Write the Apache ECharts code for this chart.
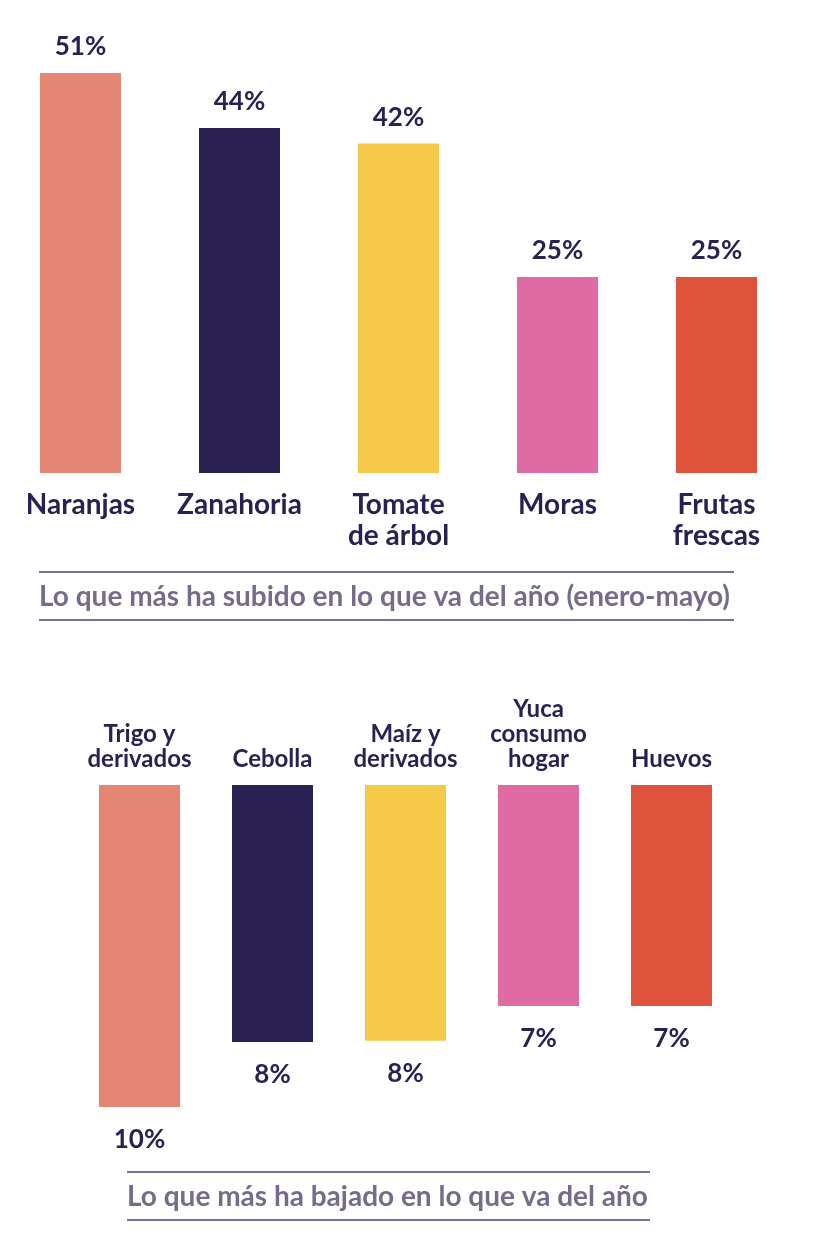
<!DOCTYPE html>
<html>
<head>
<meta charset="utf-8">
<script src="https://cdn.jsdelivr.net/npm/echarts@6/dist/echarts.min.js"></script>
<style>
    html, body { margin: 0; padding: 0; background: #fff; }
    #chart { width: 820px; height: 1256px; }
</style>
</head>
<body>
<div id="chart"></div>
<script>
const upCategories = ['Naranjas', 'Zanahoria', 'Tomate\nde árbol', 'Moras', 'Frutas\nfrescas'];
const upValues = [51, 44, 42, 25, 25];
const upTitle = 'Lo que más ha subido en lo que va del año (enero-mayo)';

const downCategories = ['Trigo y\nderivados', 'Cebolla', 'Maíz y\nderivados', 'Yuca\nconsumo\nhogar', 'Huevos'];
const downValues = [10, 7.98, 7.94, 6.86, 6.86];
const downTitle = 'Lo que más ha bajado en lo que va del año';

const barColors = ['#E48472', '#2A2052', '#F5C947', '#DF6BA2', '#DF523C'];

const textColor = '#2A2052';
const titleColor = '#776B8C';
const font = 'Lato';

const chart = echarts.init(document.getElementById('chart'));

function coloredData(values) {
    return values.map((v, i) => ({
        value: v,
        itemStyle: { color: barColors[i] },
    }));
}

function sepLine(x1, x2, y) {
    return {
        type: 'line',
        shape: { x1: x1, y1: y, x2: x2, y2: y },
        style: { stroke: '#7B7092', lineWidth: 2 },
    };
}

function titleText(x, y, text) {
    return {
        type: 'text',
        x: x,
        y: y,
        style: {
            text: text,
            fill: titleColor,
            font: 'bold 28px ' + font,
            verticalAlign: 'middle',
        },
    };
}

const option = {
    animation: false,
    grid: [
        { left: 1, width: 795, top: 73, height: 400 },
        { left: 73, width: 665, top: 785, height: 322 },
    ],
    xAxis: [
        {
            gridIndex: 0,
            type: 'category',
            data: upCategories,
            axisLine: { show: false },
            axisTick: { show: false },
            axisLabel: {
                interval: 0,
                margin: 16,
                color: textColor,
                fontFamily: font,
                fontWeight: 'bold',
                fontSize: 28,
                lineHeight: 31,
            },
        },
        {
            gridIndex: 1,
            type: 'category',
            position: 'top',
            data: downCategories,
            axisLine: { show: false },
            axisTick: { show: false },
            axisLabel: {
                interval: 0,
                margin: 13,
                color: textColor,
                fontFamily: font,
                fontWeight: 'bold',
                fontSize: 24,
                lineHeight: 25,
            },
        },
    ],
    yAxis: [
        { gridIndex: 0, type: 'value', min: 0, max: 51, show: false },
        { gridIndex: 1, type: 'value', min: 0, max: 10, inverse: true, show: false },
    ],
    series: [
        {
            type: 'bar',
            xAxisIndex: 0,
            yAxisIndex: 0,
            barWidth: 81,
            data: coloredData(upValues),
            label: {
                show: true,
                position: 'top',
                distance: 13,
                formatter: (p) => Math.round(p.value) + '%',
                color: textColor,
                fontFamily: font,
                fontWeight: 'bold',
                fontSize: 26,
            },
        },
        {
            type: 'bar',
            xAxisIndex: 1,
            yAxisIndex: 1,
            barWidth: 81,
            data: coloredData(downValues),
            label: {
                show: true,
                position: 'bottom',
                distance: 20,
                formatter: (p) => Math.round(p.value) + '%',
                color: textColor,
                fontFamily: font,
                fontWeight: 'bold',
                fontSize: 26,
            },
        },
    ],
    graphic: [
        sepLine(39, 734, 572),
        titleText(39, 597, upTitle),
        sepLine(39, 734, 620),
        sepLine(127, 650, 1172),
        titleText(127, 1197, downTitle),
        sepLine(127, 650, 1220),
    ],
};

chart.setOption(option);
</script>
</body>
</html>
